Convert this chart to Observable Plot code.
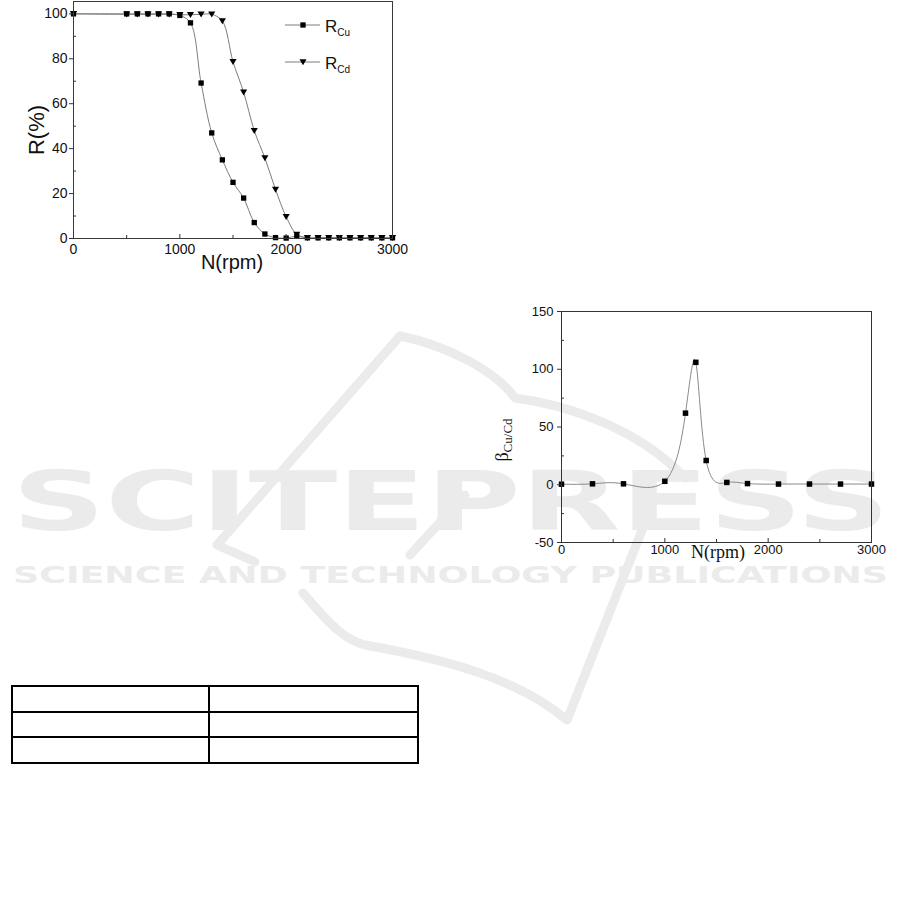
<!DOCTYPE html>
<html><head><meta charset="utf-8">
<script src="https://cdn.jsdelivr.net/npm/d3@7"></script>
<script src="https://cdn.jsdelivr.net/npm/@observablehq/plot@0.6"></script>
<style>
body{margin:0;background:#fff;}
#page{position:relative;width:901px;height:903px;overflow:hidden;background:#fff;}
.abs{position:absolute;display:block;}
table.tb{position:absolute;left:11px;top:685px;width:408px;height:79px;border-collapse:collapse;}
table.tb td{border:2px solid #000;padding:0;}
</style></head><body><div id="page"></div>
<script>
// ---------- data ----------
const rpmR = [0,500,600,700,800,900,1000,1100,1200,1300,1400,1500,1600,1700,1800,1900,2000,2100,2200,2300,2400,2500,2600,2700,2800,2900,3000];
const rCu  = [100,100,100,100,100,100,99.3,96,69.2,47,35,25,18,7.1,2,0.4,0.2,1.0,0.3,0.3,0.3,0.3,0.3,0.3,0.3,0.3,0.3];
const rCd  = [100,99.8,99.8,99.8,99.8,99.8,99.6,99.6,99.8,99.8,96.8,78.7,65.1,48,35.8,21.8,9.7,1.8,0.3,0.3,0.3,0.3,0.3,0.3,0.3,0.3,0.3];
const rpmBeta = [0,300,600,1000,1200,1300,1400,1600,1800,2100,2400,2700,3000];
const beta    = [0.5,0.8,0.8,3,62,106,21,2,1,0.6,0.6,0.6,0.6];
const xTicks = [0,1000,2000,3000];
const xInner = [1000,2000];
const xMinor = [500,1500,2500];
const rTicks = [0,20,40,60,80,100];
const rMinor = [10,30,50,70,90];
const betaTicks = [-50,0,50,100,150];
const betaMinor = [-25,25,75,125];
const legendNames = [["R","Cu"],["R","Cd"]];
const wmTitle = "SCITEPRESS";
const wmSub = "SCIENCE AND TECHNOLOGY PUBLICATIONS";

const page = document.getElementById("page");
const wm = "#ebebeb";

// ---------- watermark ----------
const bg = d3.create("svg").attr("width",901).attr("height",903).attr("class","abs").style("left","0px").style("top","0px");
const nib = bg.append("g").attr("fill","none").attr("stroke",wm).attr("stroke-width",9).attr("stroke-linecap","round").attr("stroke-linejoin","round");
nib.append("path").attr("d","M400,336 L217,545 L255,562");
nib.append("path").attr("d","M400,336 C445,345 495,370 515,398 C570,405 640,430 685,478");
nib.append("path").attr("d","M465,495 L410,555");
nib.append("path").attr("d","M303,593 C330,625 345,640 365,645 C450,660 520,680 567,720 L650,510");
bg.append("text").attr("x",12).attr("y",530).attr("textLength",878).attr("lengthAdjust","spacingAndGlyphs")
  .attr("font-family","DejaVu Sans").attr("font-weight","bold").attr("font-size",82).attr("fill",wm).text(wmTitle);
bg.append("text").attr("x",13).attr("y",583).attr("textLength",875).attr("lengthAdjust","spacingAndGlyphs")
  .attr("font-family","DejaVu Sans").attr("font-weight","bold").attr("font-size",22.5).attr("fill",wm).text(wmSub);
page.appendChild(bg.node());

// ---------- table ----------
const tb = document.createElement("table");
tb.className = "tb";
for (let i = 0; i < 3; i++) {
  const tr = tb.insertRow();
  const a = tr.insertCell(); a.style.width = "195px";
  tr.insertCell();
}
page.appendChild(tb);

// ---------- symbols ----------
const triDown = {draw(ctx, size) {
  const r = Math.sqrt(size / Math.PI);
  ctx.moveTo(-1.15 * r, -0.9 * r);
  ctx.lineTo(1.15 * r, -0.9 * r);
  ctx.lineTo(0, 1.05 * r);
  ctx.closePath();
}};

// ---------- chart 1 ----------
{
  const W = 420, H = 290, mL = 73, mR = 28, mT = 1, mB = 52;
  const inW = W - mL - mR, inH = H - mT - mB;
  const cu = rpmR.map((x, i) => ({x, y: rCu[i]}));
  const cd = rpmR.map((x, i) => ({x, y: rCd[i]}));
  const sans = "Liberation Sans, Arial, sans-serif";
  const chart = Plot.plot({
    width: W, height: H, marginLeft: mL, marginRight: mR, marginTop: mT, marginBottom: mB,
    style: {background: "transparent", fontFamily: sans, color: "#111", overflow: "visible"},
    x: {domain: [0, 3000]},
    y: {domain: [0, 105.5]},
    marks: [
      Plot.line(cu, {x: "x", y: "y", curve: "catmull-rom", stroke: "#7c7c7c", strokeWidth: 1}),
      Plot.line(cd, {x: "x", y: "y", curve: "catmull-rom", stroke: "#7c7c7c", strokeWidth: 1}),
      Plot.dot(cu, {x: "x", y: "y", symbol: "square", r: 3.0, fill: "#000", stroke: "none"}),
      Plot.dot(cd, {x: "x", y: "y", symbol: triDown, r: 3.1, fill: "#000", stroke: "none"}),
      Plot.frame({stroke: "#3a3a3a"}),
      Plot.axisX(xTicks, {tickSize: 0, tickPadding: 6, fontSize: 14, tickFormat: d => String(d), label: null}),
      Plot.tickX(xInner, {x: d => d, insetTop: inH - 4, stroke: "#333"}),
      Plot.tickX(xMinor, {x: d => d, insetTop: inH - 3, stroke: "#333"}),
      Plot.axisY(rTicks, {tickSize: 4, tickPadding: 2, fontSize: 14, tickFormat: d => String(d), label: null, stroke: "#333"}),
      Plot.tickY(rMinor, {y: d => d, insetRight: inW - 3, stroke: "#333"})
    ]
  });
  const s = d3.select(chart);
  s.append("text").attr("x", 232).attr("y", 269).attr("text-anchor", "middle")
    .attr("font-family", sans).attr("font-size", 20).attr("fill", "#111").text("N(rpm)");
  s.append("text").attr("transform", "translate(44,130) rotate(-90)").attr("text-anchor", "middle")
    .attr("font-family", sans).attr("font-size", 22).attr("fill", "#111").text("R(%)");
  const leg = s.append("g");
  const syms = [d3.symbolSquare, triDown];
  const sizes = [Math.PI * 3.0 * 3.0, Math.PI * 3.1 * 3.1];
  [25, 62].forEach((yy, i) => {
    leg.append("line").attr("x1", 285).attr("x2", 320).attr("y1", yy).attr("y2", yy).attr("stroke", "#7c7c7c");
    leg.append("path").attr("transform", `translate(303,${yy})`).attr("d", d3.symbol(syms[i], sizes[i])()).attr("fill", "#000");
    const t = leg.append("text").attr("x", 325).attr("y", yy + 7).attr("text-anchor", "start")
      .attr("font-family", sans).attr("font-size", 17).attr("fill", "#111");
    t.append("tspan").text(legendNames[i][0]);
    t.append("tspan").attr("font-size", 10).attr("dy", 4).text(legendNames[i][1]);
  });
  chart.setAttribute("class", (chart.getAttribute("class") || "") + " abs");
  chart.style.left = "0px"; chart.style.top = "0px";
  page.appendChild(chart);
}

// ---------- chart 2 ----------
{
  const W = 420, H = 290, mL = 81, mR = 29, mT = 21, mB = 38;
  const inW = W - mL - mR, inH = H - mT - mB;
  const b = rpmBeta.map((x, i) => ({x, y: beta[i]}));
  const sans = "Liberation Sans, Arial, sans-serif";
  const serif = "Liberation Serif, Times New Roman, serif";
  const chart = Plot.plot({
    width: W, height: H, marginLeft: mL, marginRight: mR, marginTop: mT, marginBottom: mB,
    style: {background: "transparent", fontFamily: sans, color: "#111", overflow: "visible"},
    x: {domain: [0, 3000]},
    y: {domain: [-50, 150]},
    marks: [
      Plot.line(b, {x: "x", y: "y", curve: "natural", stroke: "#8a8a8a", strokeWidth: 1}),
      Plot.dot(b, {x: "x", y: "y", symbol: "square", r: 3.1, fill: "#000", stroke: "none"}),
      Plot.frame({stroke: "#333"}),
      Plot.axisX(xTicks, {tickSize: 0, tickPadding: 2, fontSize: 13, tickFormat: d => String(d), label: null}),
      Plot.tickX(xInner, {x: d => d, insetTop: inH - 4, stroke: "#333"}),
      Plot.tickX(xMinor, {x: d => d, insetTop: inH - 3, stroke: "#333"}),
      Plot.axisY(betaTicks, {tickSize: 4, tickPadding: 4, fontSize: 13, tickFormat: d => String(d), label: null, stroke: "#333"}),
      Plot.tickY(betaMinor, {y: d => d, insetRight: inW - 3, stroke: "#333"})
    ]
  });
  const s = d3.select(chart);
  s.append("text").attr("x", 238).attr("y", 268).attr("text-anchor", "middle")
    .attr("font-family", serif).attr("font-size", 18).attr("fill", "#111").text("N(rpm)");
  const t = s.append("text").attr("transform", "translate(28,150) rotate(-90)").attr("text-anchor", "middle")
    .attr("font-family", serif).attr("font-size", 18).attr("fill", "#111");
  t.append("tspan").text("β");
  t.append("tspan").attr("font-size", 13).attr("dy", 4).text("Cu/Cd");
  chart.setAttribute("class", (chart.getAttribute("class") || "") + " abs");
  chart.style.left = "480px"; chart.style.top = "290px";
  page.appendChild(chart);
}
</script></body></html>
